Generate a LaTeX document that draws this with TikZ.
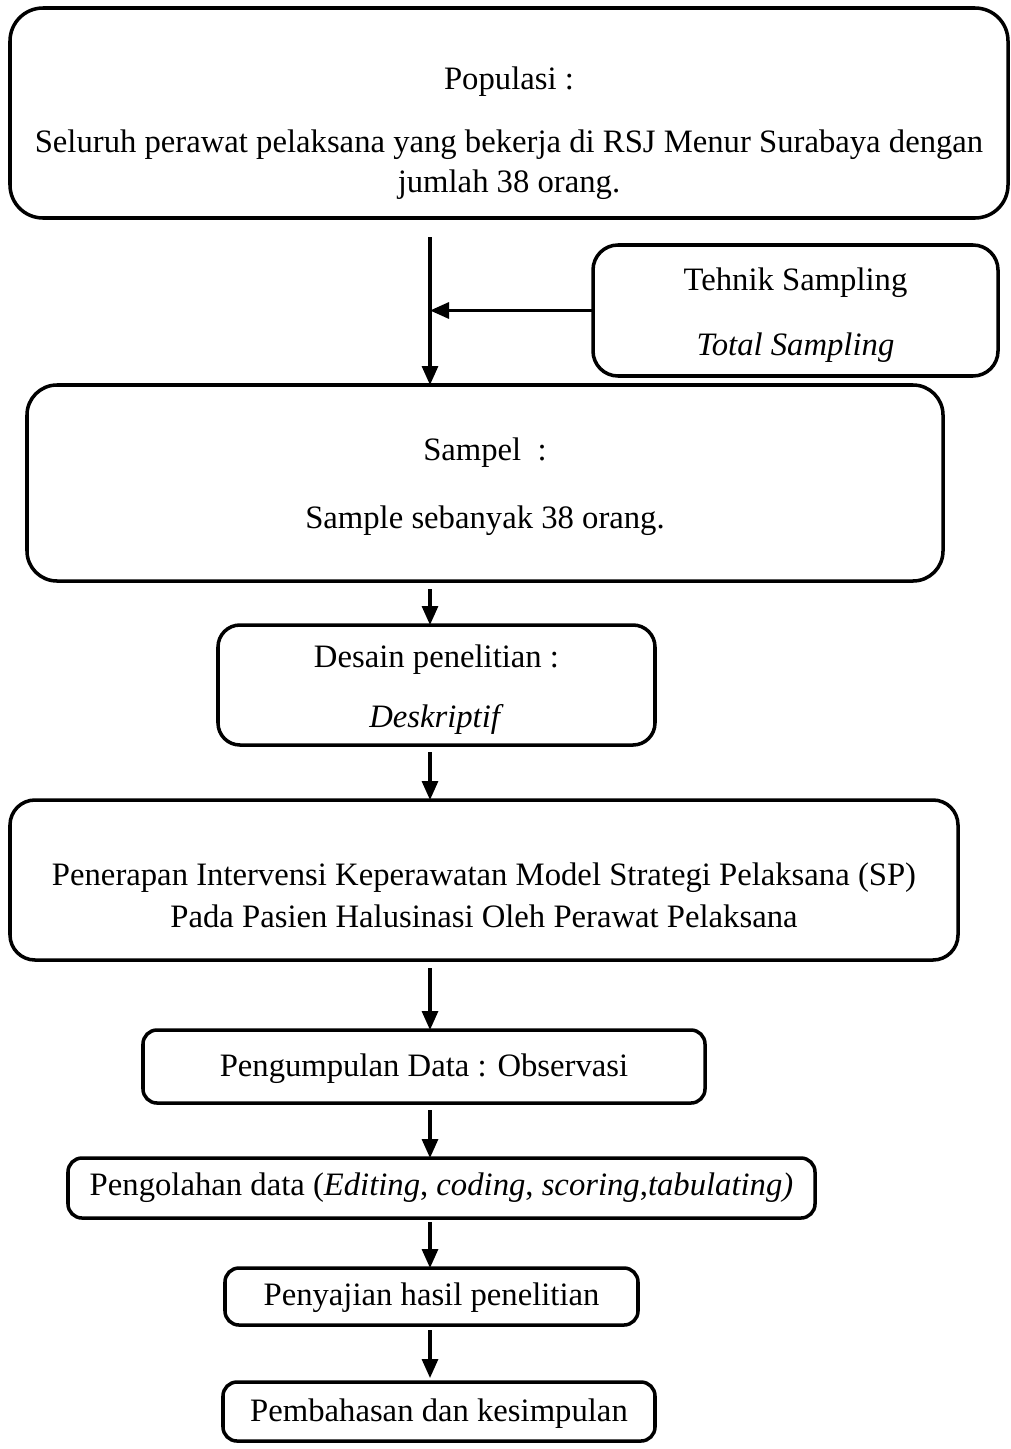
\documentclass[tikz,border=0pt]{standalone}
\usepackage{fontspec}
\setmainfont{Liberation Serif}
\usepackage{tikz}
\usetikzlibrary{positioning}
\usetikzlibrary{arrows.meta}

\begin{document}
\begin{tikzpicture}[
    box/.style={draw, line width=1pt, rectangle, rounded corners=0.14cm, align=center,
                inner sep=0pt, outer sep=0pt, fill=white,
                font=\fontsize{9.3pt}{11.2pt}\selectfont},
    >={Triangle[length=0.19cm, width=0.16cm]},
    flow/.style={->, line width=0.9pt}
  ]
    \useasboundingbox (0,0) rectangle (10.10,-14.49);

    % Populasi dan teknik sampling
    \node[box, rounded corners=0.33cm, minimum width=9.98cm, minimum height=2.10cm]
      (populasi) at (5.09,-1.13)
      {\rule{0pt}{0.63cm}Populasi :\\[0.24cm] Seluruh perawat pelaksana yang bekerja di RSJ Menur Surabaya dengan\\ jumlah 38 orang.};
    \node[box, rounded corners=0.25cm, minimum width=4.05cm, minimum height=1.31cm,
          below=0.27cm of populasi, xshift=2.865cm] (teknik)
      {\rule{0pt}{0.32cm}Tehnik Sampling\\[0.25cm] \textit{Total Sampling}};

    % Sampel dan desain
    \node[box, rounded corners=0.30cm, minimum width=9.16cm, minimum height=1.96cm,
          below=1.67cm of populasi, xshift=-0.24cm] (sampel)
      {\rule{0pt}{0.30cm}Sampel~ :\\[0.29cm] Sample sebanyak 38 orang.};
    \node[box, rounded corners=0.22cm, minimum width=4.37cm, minimum height=1.20cm,
          below=0.44cm of sampel, xshift=-0.485cm] (desain)
      {\rule{0pt}{0.32cm}Desain penelitian :\\[0.21cm] \textit{Deskriptif}};

    % Intervensi
    \node[box, rounded corners=0.25cm, minimum width=9.48cm, minimum height=1.60cm,
          below=0.55cm of desain, xshift=0.475cm] (penerapan)
      {\rule{0pt}{0.53cm}Penerapan Intervensi Keperawatan Model Strategi Pelaksana (SP)\\[0.02cm]
       Pada Pasien Halusinasi Oleh Perawat Pelaksana};

    % Pengumpulan sampai kesimpulan
    \node[box, minimum width=5.62cm, minimum height=0.73cm,
          below=0.70cm of penerapan, xshift=-0.60cm] (pengumpulan)
      {\rule{0pt}{0.28cm}Pengumpulan Data : Observasi};
    \node[box, minimum width=7.47cm, minimum height=0.60cm,
          below=0.55cm of pengumpulan, xshift=0.175cm] (pengolahan)
      {Pengolahan data (\textit{Editing}, \textit{coding}, \textit{scoring},\textit{tabulating)}};
    \node[box, minimum width=4.13cm, minimum height=0.57cm,
          below=0.50cm of pengolahan, xshift=-0.10cm] (penyajian)
      {\rule{0pt}{0.26cm}Penyajian hasil penelitian};
    \node[box, minimum width=4.32cm, minimum height=0.59cm,
          below=0.57cm of penyajian, xshift=0.075cm] (pembahasan)
      {\rule{0pt}{0.26cm}Pembahasan dan kesimpulan};

    % Garis alur
    \coordinate (trunk) at (4.30,-2.37);
    \draw[flow] (trunk) -- (trunk |- sampel.north);
    \draw[flow] (teknik.west) -- (teknik.west -| trunk);
    \draw[flow, shorten <=0.08cm] (sampel.south -| trunk) -- (desain.north -| trunk);
    \draw[flow, shorten <=0.07cm] (desain.south -| trunk) -- (penerapan.north -| trunk);
    \draw[flow, shorten <=0.08cm] (penerapan.south -| trunk) -- (pengumpulan.north -| trunk);
    \draw[flow, shorten <=0.07cm] (pengumpulan.south -| trunk) -- (pengolahan.north -| trunk);
    \draw[flow, shorten <=0.04cm] (pengolahan.south -| trunk) -- (penyajian.north -| trunk);
    \draw[flow, shorten <=0.05cm, shorten >=0.04cm] (penyajian.south -| trunk) -- (pembahasan.north -| trunk);

  \end{tikzpicture}
\end{document}
